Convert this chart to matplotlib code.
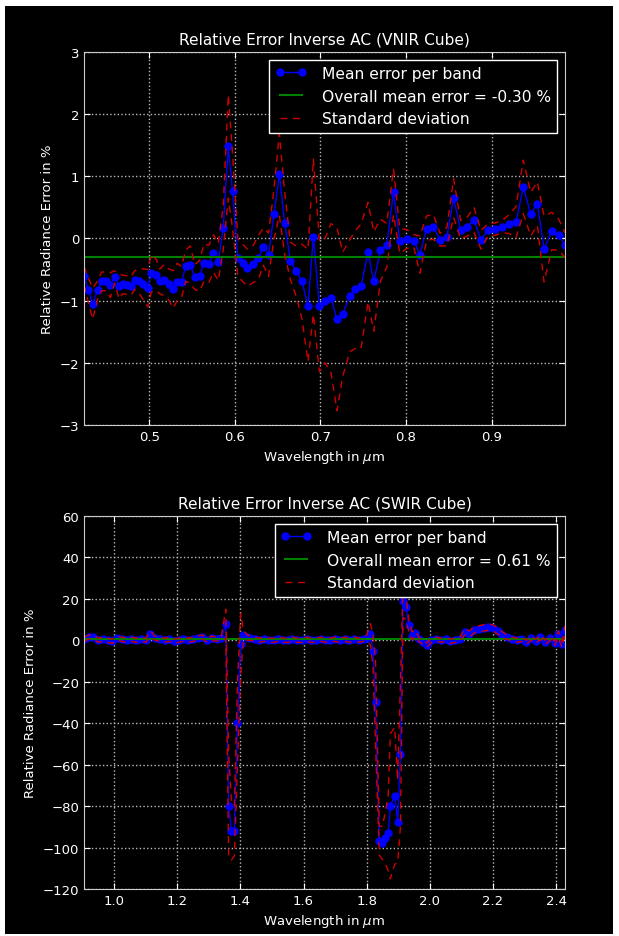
import numpy as np
import matplotlib
matplotlib.use("Agg")
from matplotlib import pyplot as plt
from matplotlib.patches import Rectangle

# VNIR cube: band wavelength (um), mean relative error (%), std (%)
vnir_wl = [0.4235, 0.4286, 0.4336, 0.4395, 0.4441, 0.4496, 0.4543, 0.4594,
           0.4645, 0.4687, 0.4734, 0.4781, 0.4828, 0.4883, 0.4930, 0.4980,
           0.5023, 0.5082, 0.5121, 0.5172, 0.5226, 0.5278, 0.5324, 0.5375,
           0.5425, 0.5477, 0.5530, 0.5589, 0.5636, 0.5694, 0.5749, 0.5804,
           0.5863, 0.5922, 0.5972, 0.6034, 0.6089, 0.6144, 0.6214, 0.6273,
           0.6331, 0.6393, 0.6456, 0.6519, 0.6581, 0.6648, 0.6713, 0.6783,
           0.6854, 0.6917, 0.6987, 0.7053, 0.7123, 0.7193, 0.7260, 0.7342,
           0.7409, 0.7474, 0.7556, 0.7623, 0.7701, 0.7775, 0.7854, 0.7927,
           0.8013, 0.8091, 0.8162, 0.8240, 0.8317, 0.8399, 0.8478, 0.8556,
           0.8638, 0.8715, 0.8794, 0.8876, 0.8961, 0.9043, 0.9125, 0.9204,
           0.9286, 0.9371, 0.9458, 0.9535, 0.9614, 0.9704, 0.9786, 0.9859]
vnir_mean = [-0.60, -0.83, -1.05, -0.83, -0.69, -0.69, -0.75, -0.62,
             -0.77, -0.74, -0.75, -0.77, -0.67, -0.69, -0.74, -0.80,
             -0.56, -0.59, -0.69, -0.67, -0.74, -0.82, -0.70, -0.70,
             -0.44, -0.42, -0.62, -0.60, -0.39, -0.41, -0.24, -0.38,
             0.17, 1.48, 0.76, -0.31, -0.39, -0.47, -0.41, -0.31,
             -0.13, -0.26, 0.39, 1.03, 0.25, -0.36, -0.52, -0.69,
             -1.08, 0.03, -1.09, -1.00, -0.96, -1.30, -1.22, -0.92,
             -0.82, -0.77, -0.22, -0.69, -0.19, -0.11, 0.75, -0.04,
             -0.01, -0.04, -0.26, 0.16, 0.19, -0.02, 0.03, 0.65,
             0.14, 0.19, 0.30, -0.02, 0.14, 0.15, 0.19, 0.23,
             0.26, 0.83, 0.39, 0.56, -0.17, 0.12, 0.06, -0.11]
vnir_std = [0.15, 0.20, 0.25, 0.15, 0.15, 0.15, 0.20, 0.10,
            0.20, 0.15, 0.15, 0.15, 0.15, 0.20, 0.25, 0.30,
            0.30, 0.25, 0.20, 0.25, 0.25, 0.30, 0.30, 0.25,
            0.25, 0.30, 0.20, 0.25, 0.30, 0.30, 0.30, 0.30,
            0.35, 0.83, 0.60, 0.30, 0.30, 0.30, 0.30, 0.35,
            0.30, 0.35, 0.40, 0.66, 0.50, 0.30, 0.40, 0.60,
            0.90, 1.25, 1.05, 1.00, 1.20, 1.47, 1.00, 0.90,
            0.95, 1.00, 0.80, 0.80, 0.50, 0.35, 0.37, 0.20,
            0.15, 0.10, 0.30, 0.20, 0.20, 0.10, 0.15, 0.31,
            0.15, 0.15, 0.20, 0.15, 0.10, 0.10, 0.10, 0.15,
            0.25, 0.43, 0.35, 0.35, 0.53, 0.30, 0.25, 0.20]
vnir_overall = -0.30

# SWIR cube: band wavelength (um), mean relative error (%), std (%)
swir_wl = [0.905, 0.92, 0.935, 0.95, 0.965, 0.98, 0.995, 1.01, 1.025, 1.04,
           1.055, 1.07, 1.085, 1.10, 1.115, 1.13, 1.145, 1.16, 1.175, 1.19,
           1.205, 1.22, 1.235, 1.25, 1.265, 1.28, 1.295, 1.31, 1.325, 1.34,
           1.354, 1.363, 1.372, 1.381, 1.391, 1.401, 1.41, 1.42, 1.43,
           1.445, 1.46, 1.475, 1.49, 1.505, 1.52, 1.535, 1.55, 1.565, 1.58,
           1.595, 1.61, 1.625, 1.64, 1.655, 1.67, 1.685, 1.70, 1.715, 1.73,
           1.745, 1.76, 1.775, 1.79, 1.80,
           1.812, 1.820, 1.828, 1.840, 1.850, 1.858, 1.868, 1.875, 1.889,
           1.898, 1.907, 1.915, 1.924, 1.933, 1.944, 1.954, 1.965, 1.978,
           1.991, 2.005, 2.02, 2.035, 2.05, 2.065, 2.08, 2.095,
           2.11, 2.125, 2.14, 2.155, 2.17, 2.185, 2.20, 2.215, 2.23, 2.245,
           2.26, 2.275, 2.29, 2.305, 2.32, 2.335, 2.35, 2.365, 2.38, 2.395,
           2.407, 2.418, 2.428]
swir_mean = [0.5, 1.5, 1.6, 0.0, 0.5, 0.0, -0.5, 1.0, 0.5, 0.0,
             0.5, 0.0, 0.5, 0.0, 3.0, 1.0, 0.5, 0.0, 0.5, -0.5,
             0.0, 0.5, 0.0, 0.5, 1.0, 1.6, 0.0, 1.0, 0.5, 1.0,
             8.0, -80.0, -92.0, -92.0, -40.0, -2.0, 2.4, 1.5, 1.0,
             0.5, 0.0, 0.5, 0.0, 0.0, 0.5, 0.0, 0.0, 0.5, 0.0,
             0.0, 0.5, 0.0, 0.0, 0.5, 0.0, 0.0, 0.5, 0.0, 0.5,
             0.0, 0.5, 0.0, 0.5, 1.0,
             3.0, -5.0, -30.0, -96.7, -97.8, -95.6, -93.1, -80.1, -75.0,
             -87.5, -54.9, 19.0, 16.0, 7.4, 2.2, 3.5, 0.5, -1.0,
             -2.3, 0.0, 0.5, 0.0, 0.5, -0.5, 0.0, 0.5,
             4.0, 3.0, 5.0, 5.5, 6.0, 6.3, 6.0, 4.5, 2.5, 1.5,
             0.5, 0.0, 0.5, -1.0, 1.0, -0.5, 1.5, -1.0, 1.0, -1.5,
             3.0, -2.0, 5.0]
swir_std = [1.0, 1.0, 1.0, 1.0, 1.0, 1.0, 1.0, 1.0, 1.0, 1.0,
            1.0, 1.0, 1.0, 1.0, 1.5, 1.0, 1.0, 1.0, 1.0, 1.0,
            1.0, 1.0, 1.0, 1.0, 1.0, 1.0, 1.0, 1.0, 1.0, 1.0,
            7.0, 25.0, 14.0, 12.0, 20.0, 15.0, 2.0, 1.5, 1.0,
            1.0, 1.0, 1.0, 1.0, 1.0, 1.0, 1.0, 1.0, 1.0, 1.0,
            1.0, 1.0, 1.0, 1.0, 1.0, 1.0, 1.0, 1.0, 1.0, 1.0,
            1.0, 1.0, 1.0, 1.0, 1.5,
            5.0, 8.0, 20.0, 7.0, 8.0, 12.0, 18.0, 35.0, 33.0,
            20.0, 35.0, 8.0, 6.0, 3.0, 2.0, 1.5, 1.0, 1.0,
            1.0, 1.0, 1.0, 1.0, 1.0, 1.0, 1.0, 1.0,
            1.5, 1.5, 1.5, 1.5, 1.5, 1.5, 1.5, 1.5, 1.5, 1.0,
            1.0, 1.0, 1.0, 1.0, 1.0, 1.0, 1.0, 1.0, 1.0, 1.0,
            1.5, 1.5, 2.0]
swir_overall = 0.61

FG = "white"
plt.rcParams.update({
    "font.family": "DejaVu Sans",
    "text.color": FG,
    "axes.labelcolor": FG,
    "xtick.color": FG,
    "ytick.color": FG,
    "xtick.direction": "in",
    "ytick.direction": "in",
    "xtick.top": True,
    "ytick.right": True,
    "xtick.major.size": 4,
    "ytick.major.size": 4,
})

fig = plt.figure(figsize=(6.19, 9.37), dpi=100, facecolor="white")
# black panel inside a thin white frame
fig.patches.append(Rectangle((5 / 619, 2 / 937), 608 / 619, 928 / 937,
                             transform=fig.transFigure, facecolor="black",
                             edgecolor="none", zorder=-10))

ax1 = fig.add_axes([0.1357, 0.5454, 0.7771, 0.3981])
ax2 = fig.add_axes([0.1357, 0.0502, 0.7771, 0.3981])


def draw_panel(ax, wl, mean, std, overall, title, ylim, yticks, xticks):
    wl = np.array(wl)
    mean = np.array(mean)
    std = np.array(std)
    ax.set_facecolor("black")
    ax.plot(wl, mean, "o-", color="blue", mec="blue", ms=5, lw=1,
            label="Mean error per band")
    ax.axhline(overall, color="green", lw=1.5,
               label="Overall mean error = %.2f %%" % overall)
    ax.plot(wl, mean + std, color="#d00000", lw=1, dashes=(5, 4),
            label="Standard deviation")
    ax.plot(wl, mean - std, color="#d00000", lw=1, dashes=(5, 4))
    ax.set_xlim(wl[0], wl[-1])
    ax.set_ylim(*ylim)
    ax.set_yticks(yticks)
    ax.set_xticks(xticks)
    ax.grid(True, color="#bbbbbb", linestyle=":", lw=1)
    for s in ax.spines.values():
        s.set_color("#cccccc")
    ax.tick_params(labelsize=9.5)
    ax.set_title(title, fontsize=11.1, color=FG)
    ax.set_xlabel(r"Wavelength in $\mu$m", fontsize=9.5)
    ax.set_ylabel("Relative Radiance Error in %", fontsize=9.5)
    leg = ax.legend(loc="upper right", numpoints=2, fontsize=11.2,
                    fancybox=False, borderaxespad=0.5, handlelength=2.0,
                    handletextpad=1.0)
    leg.get_frame().set_facecolor("black")
    leg.get_frame().set_edgecolor(FG)
    leg.get_frame().set_alpha(1)


draw_panel(ax1, vnir_wl, vnir_mean, vnir_std, vnir_overall,
           "Relative Error Inverse AC (VNIR Cube)", (-3, 3),
           np.arange(-3, 4, 1), [0.5, 0.6, 0.7, 0.8, 0.9])
ax1.set_xticklabels(["0.5", "0.6", "0.7", "0.8", "0.9"])
draw_panel(ax2, swir_wl, swir_mean, swir_std, swir_overall,
           "Relative Error Inverse AC (SWIR Cube)", (-120, 60),
           np.arange(-120, 61, 20), np.arange(1.0, 2.41, 0.2))

fig.savefig("out.png", dpi=100, facecolor="white")
